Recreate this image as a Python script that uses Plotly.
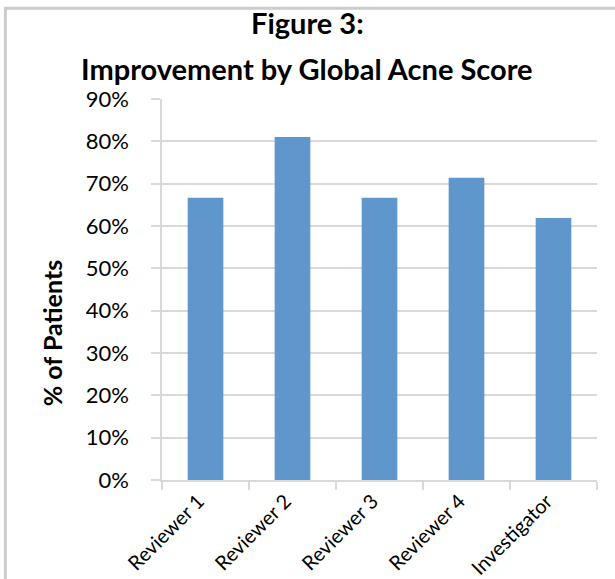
import plotly.graph_objects as go

categories = ["Reviewer 1", "Reviewer 2", "Reviewer 3", "Reviewer 4", "Investigator"]
values = [0.667, 0.81, 0.667, 0.714, 0.619]
y_ticks = [0, 0.1, 0.2, 0.3, 0.4, 0.5, 0.6, 0.7, 0.8, 0.9]
y_tick_labels = ["0%", "10%", "20%", "30%", "40%", "50%", "60%", "70%", "80%", "90%"]
title_lines = ["Figure 3:", "Improvement by Global Acne Score"]
y_title = "% of Patients"

FONT = "Lato, 'Open Sans', sans-serif"
GRID = "#D9D9D9"

fig = go.Figure(go.Bar(
    x=categories, y=values,
    marker=dict(color="#5F96CB", line=dict(width=0)),
))

fig.update_layout(
    width=615, height=579,
    margin=dict(l=162, r=18, t=99, b=99, autoexpand=False),
    paper_bgcolor="white", plot_bgcolor="white",
    bargap=0.59,
    showlegend=False,
    font=dict(family=FONT, color="black"),
    xaxis=dict(
        tickangle=-45, tickfont=dict(size=20),
        showline=True, linecolor=GRID, linewidth=1.5,
        ticks="outside", tickson="boundaries", ticklen=8, tickcolor=GRID, tickwidth=1.5,
        ticklabelshift=-7,
        showgrid=False, automargin=False,
    ),
    yaxis=dict(
        range=[0, 0.9], tickvals=y_ticks, ticktext=y_tick_labels,
        tickfont=dict(size=22),
        showline=True, linecolor=GRID, linewidth=1.5,
        showgrid=True, gridcolor=GRID, gridwidth=1.5,
        ticks="outside", ticklen=9, tickcolor=GRID, tickwidth=1.5,
        ticklabelstandoff=18,
        zeroline=False, automargin=False,
    ),
    annotations=[
        dict(text="<b>%s</b>" % title_lines[0], xref="paper", yref="paper",
             x=0.334, y=1.2, xanchor="center", yanchor="middle", showarrow=False,
             font=dict(size=29)),
        dict(text="<b>%s</b>" % title_lines[1], xref="paper", yref="paper",
             x=0.334, y=1.08, xanchor="center", yanchor="middle", showarrow=False,
             font=dict(size=29)),
        dict(text="<b>%s</b>" % y_title, xref="paper", yref="paper",
             x=-0.253, y=0.385, xanchor="center", yanchor="middle", showarrow=False,
             textangle=-90, font=dict(size=25)),
    ],
    shapes=[
        dict(type="rect", xref="paper", yref="paper",
             x0=-0.36, x1=1.2, y0=-0.3, y1=1.238,
             line=dict(color="#CCCCCC", width=3), fillcolor="rgba(0,0,0,0)",
             layer="below"),
    ],
)

fig.write_html("out.html")
